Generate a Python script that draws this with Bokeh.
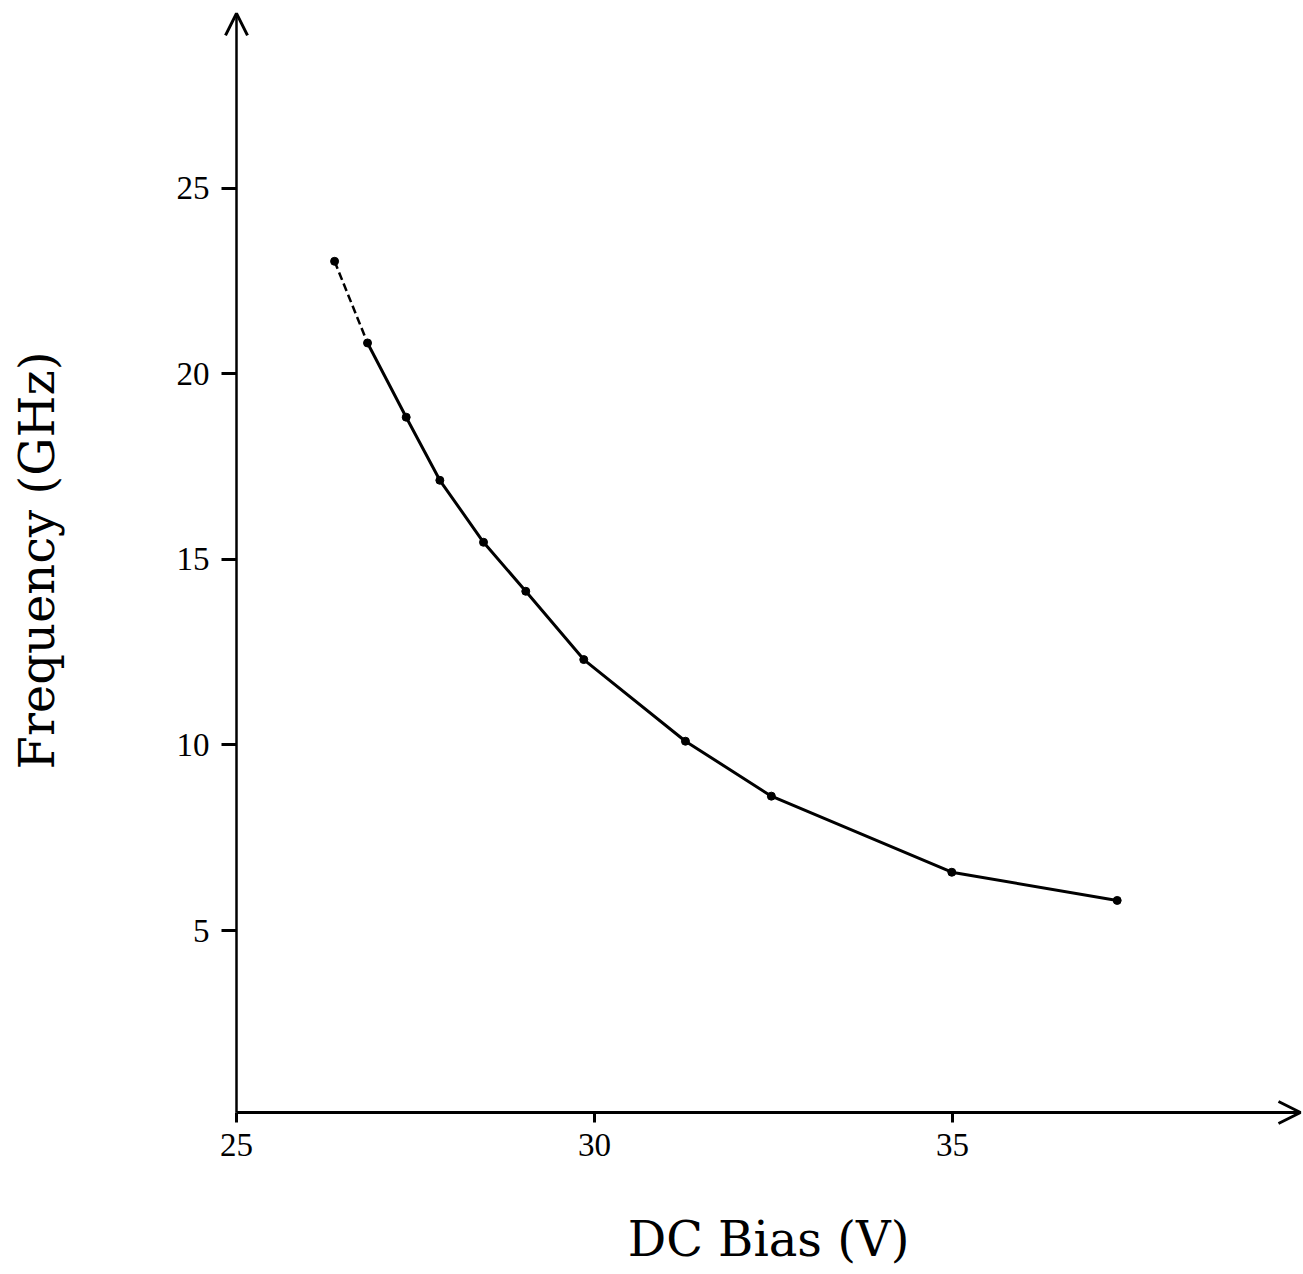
from bokeh.plotting import figure
from bokeh.models import Range1d, FixedTicker, Arrow, OpenHead
from bokeh.embed import file_html
from bokeh.resources import INLINE

# Data
dc_bias_v = [26.37, 26.83, 27.37, 27.84, 28.45, 29.04, 29.85, 31.27, 32.47, 34.99, 37.30]
frequency_ghz = [23.03, 20.83, 18.83, 17.13, 15.46, 14.14, 12.30, 10.10, 8.62, 6.57, 5.81]
x_ticks = [25, 30, 35]
y_ticks = [5, 10, 15, 20, 25]
x_title = "DC Bias (V)"
y_title = "Frequency (GHz)"

# axis origin / arrow tips (data units)
AX_X, AX_Y = 25, 0.096
TIP_X, TIP_Y = 39.86, 29.71

p = figure(width=1303, height=1274, output_backend="svg", toolbar_location=None,
           x_range=Range1d(21.704, 39.902), y_range=Range1d(-4.268, 30.057),
           min_border_left=0, min_border_right=0, min_border_top=0,
           min_border_bottom=0)
p.outline_line_color = None
p.grid.visible = False
p.background_fill_color = "white"
p.border_fill_color = "white"

for ax in (p.xaxis[0], p.yaxis[0]):
    ax.axis_line_color = None
    ax.major_tick_in = 0
    ax.minor_tick_line_color = None
    ax.major_tick_line_color = "black"
    ax.major_tick_line_width = 3
    ax.major_label_text_font = "Liberation Serif"
    ax.major_label_text_font_size = "33px"
    ax.major_label_text_color = "black"
    ax.axis_label_text_font = "DejaVu Serif"
    ax.axis_label_text_font_size = "48px"
    ax.axis_label_text_font_style = "normal"
    ax.axis_label_text_color = "black"

p.xaxis.ticker = FixedTicker(ticks=x_ticks)
p.yaxis.ticker = FixedTicker(ticks=y_ticks)
p.xaxis.fixed_location = AX_Y
p.yaxis.fixed_location = AX_X
p.xaxis.bounds = (AX_X, TIP_X)
p.yaxis.bounds = (AX_Y, 29.84)
p.xaxis.major_tick_out = 10
p.yaxis.major_tick_out = 15
p.xaxis.major_label_standoff = 11
p.yaxis.major_label_standoff = 12
p.xaxis.axis_label = x_title
p.yaxis.axis_label = y_title
p.xaxis.axis_label_standoff = 52
p.yaxis.axis_label_standoff = 109

# axis lines with open arrow heads
p.add_layout(Arrow(x_start=AX_X, y_start=AX_Y, x_end=TIP_X, y_end=AX_Y,
                   line_width=3, line_color="black",
                   end=OpenHead(size=22, line_width=3, line_color="black")))
p.add_layout(Arrow(x_start=AX_X, y_start=AX_Y, x_end=AX_X, y_end=TIP_Y,
                   line_width=2.5, line_color="black",
                   end=OpenHead(size=22, line_width=3, line_color="black")))

# curve: first segment dashed, rest solid
p.line(dc_bias_v[:2], frequency_ghz[:2], line_color="black", line_width=2.5,
       line_dash="8 4")
p.line(dc_bias_v[1:], frequency_ghz[1:], line_color="black", line_width=3)
p.scatter(dc_bias_v, frequency_ghz, size=8, color="black")

open("out.html", "w").write(file_html(p, INLINE))
